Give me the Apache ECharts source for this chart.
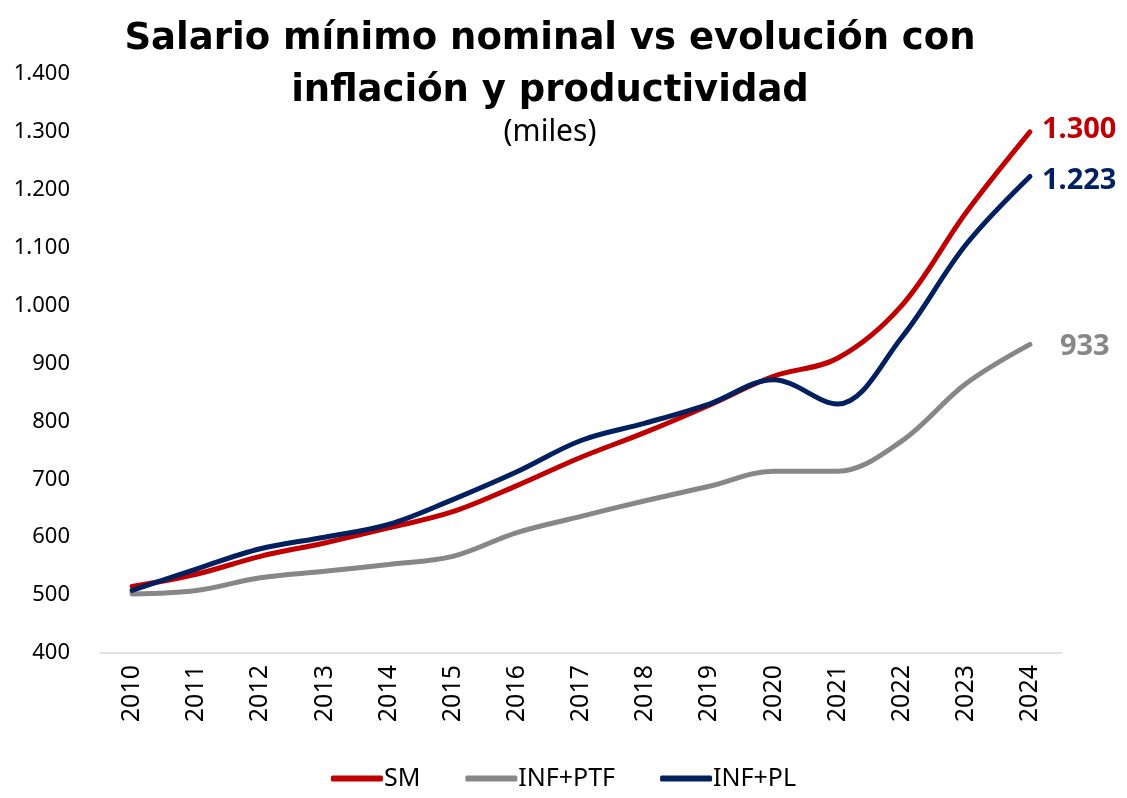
<!DOCTYPE html>
<html>
<head>
<meta charset="utf-8">
<script src="https://cdn.jsdelivr.net/npm/echarts@6/dist/echarts.min.js"></script>
<style>
  html, body { margin: 0; padding: 0; background: #fff; }
  #main { width: 1127px; height: 798px; }
</style>
</head>
<body>
<div id="main"></div>
<script>
// datos (miles)
var years = ['2010','2011','2012','2013','2014','2015','2016','2017','2018','2019','2020','2021','2022','2023','2024'];
var sm = [515, 536, 567, 590, 616, 644, 689, 738, 781, 828, 878, 909, 1000, 1160, 1300];
var infPtf = [502, 508, 530, 541, 553, 567, 608, 636, 663, 688, 714, 714, 766, 865, 933];
var infPl = [508, 545, 580, 600, 622, 665, 713, 767, 797, 830, 872, 830, 945, 1105, 1223];

var FONT = 'Noto Sans';

function miles(v) {
    return String(Math.round(v)).replace(/\B(?=(\d{3})+(?!\d))/g, '.');
}

function serie(name, data, color, dx, dy) {
    return {
        name: name,
        type: 'line',
        data: data,
        smooth: 0.35,
        symbol: 'none',
        lineStyle: { color: color, width: 5, cap: 'round' },
        itemStyle: { color: color },
        endLabel: {
            show: true,
            color: color,
            fontFamily: FONT,
            fontWeight: 'bold',
            fontSize: 29,
            distance: 12,
            offset: [dx, dy],
            formatter: function (p) { return miles(p.value); }
        }
    };
}

var myChart = echarts.init(document.getElementById('main'));

var option = {
    backgroundColor: '#fff',
    animation: false,
    title: [{
        text: 'Salario mínimo nominal vs evolución con\ninflación y productividad',
        left: 545,
        top: 8,
        textAlign: 'center',
        textStyle: { fontFamily: 'DejaVu Sans', fontWeight: 'bold', fontSize: 37, lineHeight: 52, color: '#000' }
    }, {
        text: '(miles)',
        left: 545,
        top: 112,
        textAlign: 'center',
        textStyle: { fontFamily: FONT, fontWeight: 'normal', fontSize: 30, color: '#000' }
    }],
    legend: {
        bottom: 2,
        left: 'center',
        itemWidth: 52,
        itemHeight: 6,
        itemGap: 45,
        icon: 'roundRect',
        textStyle: { fontFamily: FONT, fontSize: 25, color: '#000', padding: [0, 0, 0, -4] },
        data: ['SM', 'INF+PTF', 'INF+PL']
    },
    grid: { left: 100, right: 65, top: 74, bottom: 145 },
    xAxis: {
        type: 'category',
        data: years,
        boundaryGap: true,
        axisLine: { lineStyle: { color: '#d9d9d9', width: 1.5 } },
        axisTick: { show: false },
        axisLabel: { rotate: 90, fontFamily: FONT, fontSize: 25, color: '#000', margin: 12 }
    },
    yAxis: {
        type: 'value',
        min: 400,
        max: 1400,
        interval: 100,
        splitLine: { show: false },
        axisLine: { show: false },
        axisTick: { show: false },
        axisLabel: {
            fontFamily: FONT, fontSize: 22, color: '#000', margin: 30,
            formatter: function (v) { return miles(v); }
        }
    },
    series: [
        serie('SM', sm, '#c00000', 0, -2),
        serie('INF+PTF', infPtf, '#878787', 18, 2),
        serie('INF+PL', infPl, '#002060', 0, 4)
    ]
};

myChart.setOption(option);
</script>
</body>
</html>
